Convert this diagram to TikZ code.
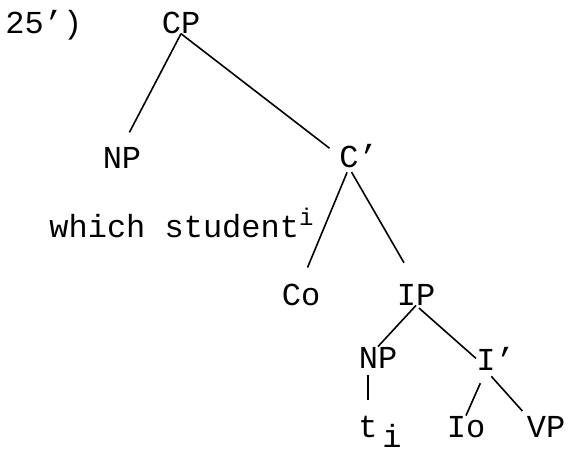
\documentclass[tikz,border=0pt]{standalone}
\usepackage{fontspec}
\setmainfont{Liberation Mono}

\begin{document}
\begin{tikzpicture}[x=0.5pt,y=-0.5pt,
  cat/.style={inner sep=0pt,anchor=base,font=\fontsize{16}{18}\selectfont},
  br/.style={line width=0.8pt},
]
  \useasboundingbox (0,0) rectangle (571,451);

  \node[cat,anchor=base west] (ex) at (5,33) {25')};
  \node[cat] (CP) at (181,33) {CP};
  \node[cat] (NPa) at (122,168) {NP};
  \node[cat] (Cbar) at (349,167) {C\rlap{'}};
  \node[cat,anchor=base west] (wh) at (49,237) {which student\raisebox{6pt}{\fontsize{12}{12}\selectfont i}};
  \node[cat] (Co) at (301,305) {Co};
  \node[cat] (IP) at (416,305) {IP};
  \node[cat] (NPb) at (378,368) {NP};
  \node[cat] (Ibar) at (486,370) {I\rlap{'}};
  \node[cat] (t) at (368,437) {t};
  \node[cat] (ti) at (392,447) {i};
  \node[cat] (Io) at (466,437) {Io};
  \node[cat] (VP) at (546,437) {VP};

  \draw[br,shorten >=8pt] (CP.south) -- (NPa.north);
  \draw[br,shorten >=6pt] (CP.south) -- (Cbar.west);
  \draw[br,shorten <=2.5pt,shorten >=8.5pt] (Cbar.south) -- (Co.north);
  \draw[br,shorten <=2.5pt,shorten >=12pt] (Cbar.south) -- (IP.north);
  \draw[br] (IP.south) -- (NPb.north);
  \draw[br,shorten <=2pt] (IP.south) -- (Ibar.west);
  \draw[br,shorten <=3.5pt,shorten >=7.5pt] (t.north |- NPb.south) -- (t.north);
  \draw[br,shorten <=7pt] (Ibar.south) -- (Io.north);
  \draw[br,shorten <=4pt,shorten >=3pt] (Ibar.south) -- (VP.north west);
\end{tikzpicture}
\end{document}
